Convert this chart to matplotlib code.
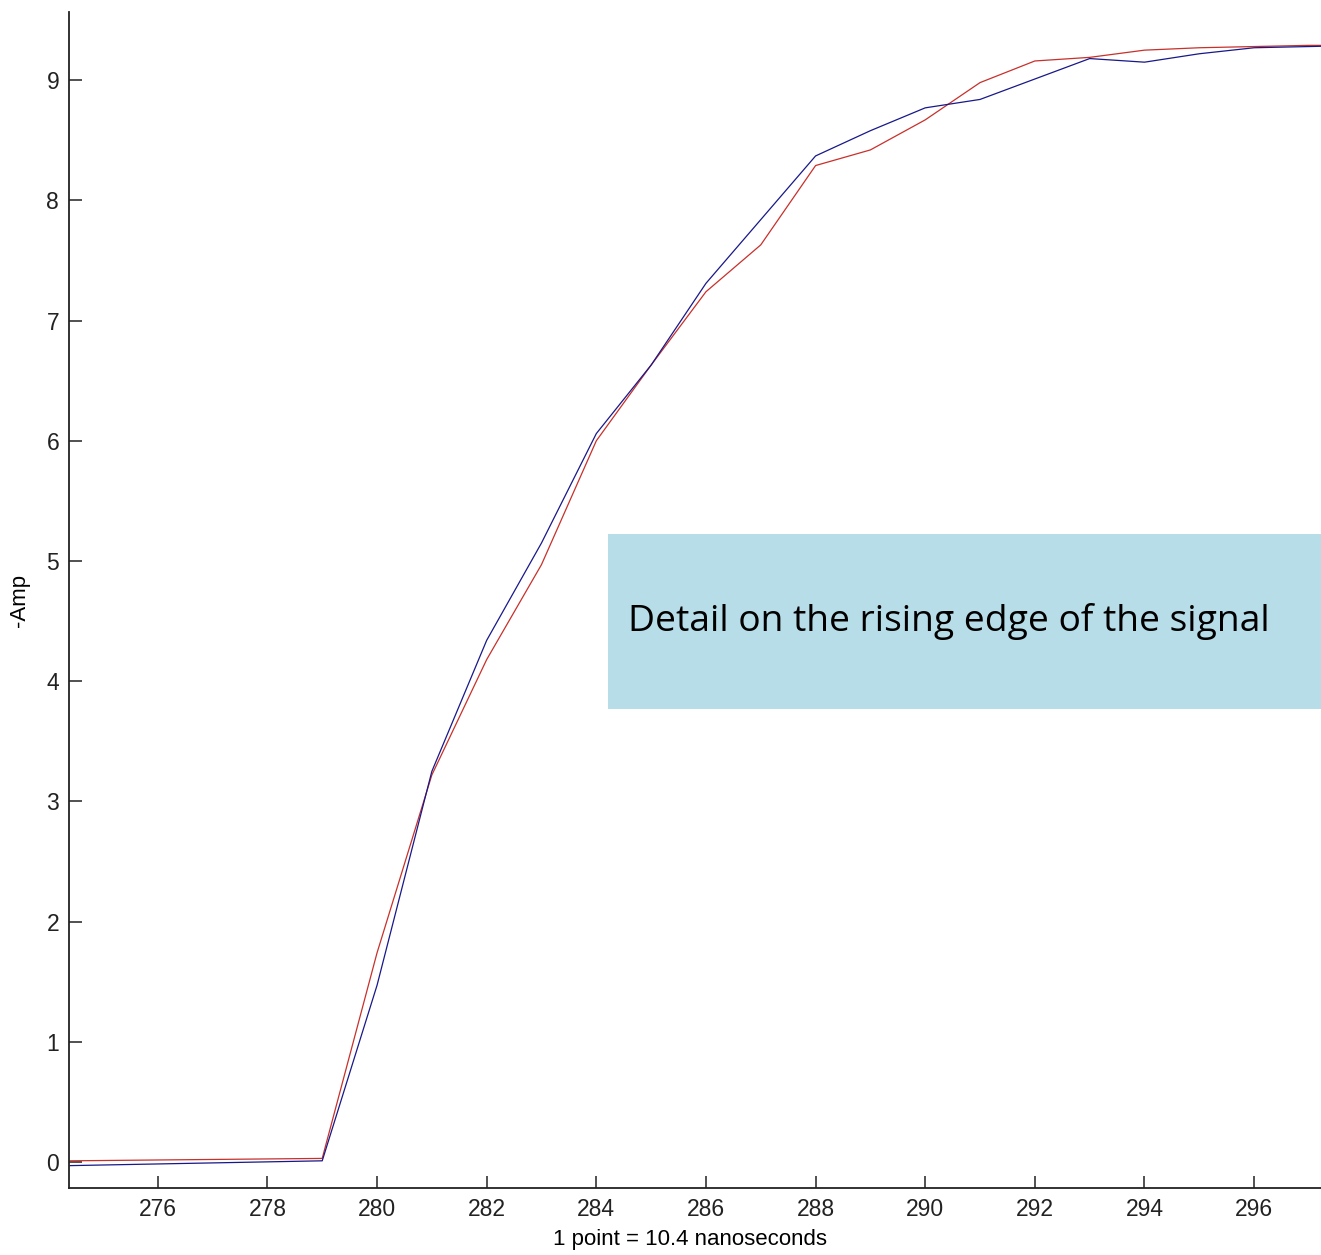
import matplotlib
matplotlib.use('Agg')
import matplotlib.pyplot as plt
from matplotlib.patches import Rectangle

# sample index (1 point = 10.4 ns)
x_points = [274.4, 279, 280, 281, 282, 283, 284, 285, 286, 287, 288,
            289, 290, 291, 292, 293, 294, 295, 296, 297, 298]
blue_amp = [-0.03, 0.01, 1.47, 3.25, 4.34, 5.15, 6.06, 6.63, 7.31, 7.84, 8.37,
            8.58, 8.77, 8.84, 9.01, 9.18, 9.15, 9.22, 9.27, 9.28, 9.29]
red_amp = [0.01, 0.03, 1.74, 3.22, 4.18, 4.97, 6.00, 6.63, 7.24, 7.63, 8.29,
           8.42, 8.67, 8.98, 9.16, 9.19, 9.25, 9.27, 9.28, 9.29, 9.29]

x_ticks = [276, 278, 280, 282, 284, 286, 288, 290, 292, 294, 296]
y_ticks = [0, 1, 2, 3, 4, 5, 6, 7, 8, 9]

plt.rcParams['font.family'] = ['Liberation Sans', 'DejaVu Sans']

fig = plt.figure(figsize=(13.21, 12.55), dpi=100)
ax = fig.add_axes([0.0522, 0.0534, 0.9978, 0.937])

ax.plot(x_points, red_amp, color='#c8302a', lw=0.9)
ax.plot(x_points, blue_amp, color='#18188a', lw=0.9)

ax.set_xlim(274.38, 297.22 + 0.05 / 0.9478 * (297.22 - 274.38))
ax.set_ylim(-0.216, 9.567)
ax.set_xticks(x_ticks)
ax.set_yticks(y_ticks)
ax.tick_params(direction='in', length=9, width=1.1, labelsize=16.5, pad=7,
               colors='#222222')

for side in ['top', 'right']:
    ax.spines[side].set_visible(False)
for side in ['left', 'bottom']:
    ax.spines[side].set_linewidth(1.3)
    ax.spines[side].set_color('#222222')

ax.set_xlabel('1 point = 10.4 nanoseconds', fontsize=16)
ax.set_ylabel('-Amp', fontsize=16, labelpad=12)
ax.xaxis.set_label_coords(0.471, -0.0345)

# annotation box
fig.add_artist(Rectangle((0.4603, 0.435), 0.5397, 0.1394, transform=fig.transFigure,
                         facecolor='#b7dde8', edgecolor='none'))
fig.text(0.4754, 0.5044, 'Detail on the rising edge of the signal', fontsize=26.8,
         family=['Open Sans', 'DejaVu Sans'], va='center', ha='left', color='black')

fig.savefig('out.png', dpi=100)
